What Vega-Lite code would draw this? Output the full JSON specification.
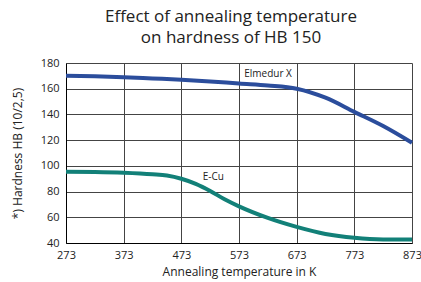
{
  "$schema": "https://vega.github.io/schema/vega-lite/v6.json",
  "width": 346,
  "height": 180,
  "autosize": {"type": "none"},
  "padding": {"left": 66, "top": 63, "right": 9, "bottom": 39},
  "background": "white",
  "config": {"view": {"stroke": null}, "font": "Open Sans"},
  "title": {
    "text": ["Effect of annealing temperature", "on hardness of HB 150"],
    "fontSize": 17,
    "fontWeight": "normal",
    "font": "Open Sans",
    "color": "#222222",
    "anchor": "middle",
    "dx": -8,
    "offset": 10,
    "lineHeight": 21
  },
  "datasets": {
    "curves": [
      {"t": 273, "hb": 170, "s": "Elmedur X"},
      {"t": 323, "hb": 169.6, "s": "Elmedur X"},
      {"t": 373, "hb": 169, "s": "Elmedur X"},
      {"t": 423, "hb": 168, "s": "Elmedur X"},
      {"t": 473, "hb": 167, "s": "Elmedur X"},
      {"t": 523, "hb": 165.7, "s": "Elmedur X"},
      {"t": 573, "hb": 164, "s": "Elmedur X"},
      {"t": 623, "hb": 162.5, "s": "Elmedur X"},
      {"t": 673, "hb": 160, "s": "Elmedur X"},
      {"t": 723, "hb": 153, "s": "Elmedur X"},
      {"t": 773, "hb": 142, "s": "Elmedur X"},
      {"t": 823, "hb": 131, "s": "Elmedur X"},
      {"t": 873, "hb": 118, "s": "Elmedur X"},
      {"t": 273, "hb": 95.5, "s": "E-Cu"},
      {"t": 323, "hb": 95.3, "s": "E-Cu"},
      {"t": 373, "hb": 94.7, "s": "E-Cu"},
      {"t": 423, "hb": 93.5, "s": "E-Cu"},
      {"t": 448, "hb": 92.5, "s": "E-Cu"},
      {"t": 473, "hb": 90, "s": "E-Cu"},
      {"t": 498, "hb": 86, "s": "E-Cu"},
      {"t": 523, "hb": 80.5, "s": "E-Cu"},
      {"t": 548, "hb": 74, "s": "E-Cu"},
      {"t": 573, "hb": 68.5, "s": "E-Cu"},
      {"t": 623, "hb": 59.5, "s": "E-Cu"},
      {"t": 673, "hb": 52.5, "s": "E-Cu"},
      {"t": 723, "hb": 47, "s": "E-Cu"},
      {"t": 773, "hb": 44, "s": "E-Cu"},
      {"t": 823, "hb": 42.8, "s": "E-Cu"},
      {"t": 873, "hb": 42.8, "s": "E-Cu"}
    ],
    "labels": [
      {"t": 582, "hb": 171.5, "s": "Elmedur X"},
      {"t": 510, "hb": 91.5, "s": "E-Cu"}
    ]
  },
  "encoding": {
    "x": {
      "field": "t", "type": "quantitative",
      "scale": {"domain": [273, 873], "nice": false, "zero": false},
      "axis": {
        "values": [273, 373, 473, 573, 673, 773, 873],
        "title": "Annealing temperature in K",
        "titleFont": "Open Sans", "titleFontSize": 12, "titleFontWeight": "normal", "titleColor": "#222",
        "titlePadding": 6,
        "labelFont": "Open Sans", "labelFontSize": 11, "labelColor": "#222", "labelPadding": 6,
        "labelOverlap": false, "labelFlush": false,
        "ticks": false, "domainColor": "#000", "domainWidth": 1,
        "grid": true, "gridColor": "#444", "gridWidth": 1, "gridOpacity": 1
      }
    },
    "y": {
      "field": "hb", "type": "quantitative",
      "scale": {"domain": [40, 180], "nice": false, "zero": false},
      "axis": {
        "values": [40, 60, 80, 100, 120, 140, 160, 180],
        "title": "*) Hardness HB (10/2,5)",
        "titleFont": "Open Sans", "titleFontSize": 12, "titleFontWeight": "normal", "titleColor": "#222",
        "titlePadding": 16,
        "labelFont": "Open Sans", "labelFontSize": 11, "labelColor": "#222", "labelPadding": 7,
        "labelOverlap": false, "labelFlush": false,
        "ticks": false, "domainColor": "#000", "domainWidth": 1,
        "grid": true, "gridColor": "#444", "gridWidth": 1, "gridOpacity": 1
      }
    }
  },
  "layer": [
    {
      "data": {"name": "curves"},
      "mark": {"type": "line", "interpolate": "monotone", "strokeWidth": 4, "strokeCap": "butt"},
      "encoding": {
        "color": {
          "field": "s", "type": "nominal",
          "scale": {"domain": ["Elmedur X", "E-Cu"], "range": ["#2b4d9c", "#128078"]},
          "legend": null
        }
      }
    },
    {
      "data": {"name": "labels"},
      "mark": {"type": "text", "align": "left", "baseline": "middle", "fontSize": 10, "font": "Open Sans", "color": "#222"},
      "encoding": {
        "text": {"field": "s"}
      }
    }
  ]
}
